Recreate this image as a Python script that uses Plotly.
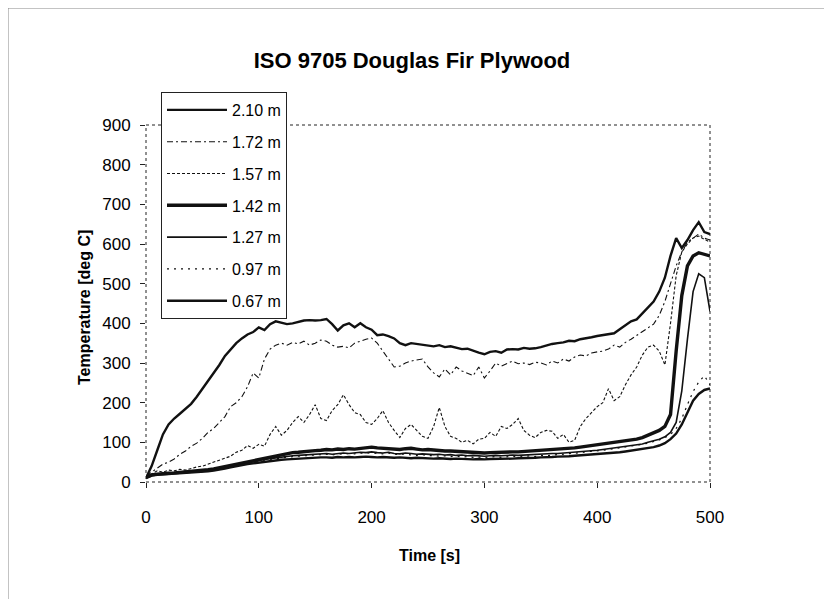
import plotly.graph_objects as go

time_s = [0, 5, 10, 15, 20, 25, 30, 35, 40, 45, 50, 55, 60, 65, 70, 75, 80, 85, 90, 95,
          100, 105, 110, 115, 120, 125, 130, 135, 140, 145, 150, 155, 160, 165, 170, 175, 180, 185, 190, 195,
          200, 205, 210, 215, 220, 225, 230, 235, 240, 245, 250, 255, 260, 265, 270, 275, 280, 285, 290, 295,
          300, 305, 310, 315, 320, 325, 330, 335, 340, 345, 350, 355, 360, 365, 370, 375, 380, 385, 390, 395,
          400, 405, 410, 415, 420, 425, 430, 435, 440, 445, 450, 455, 460, 465, 470, 475, 480, 485, 490, 495, 500]

t_210 = [10, 40, 80, 120, 145, 160, 172, 185, 197, 215, 235, 255, 272, 295, 318, 335, 350, 362, 372, 378,
         390, 383, 398, 405, 402, 398, 400, 404, 407, 408, 407, 408, 411, 398, 382, 395, 400, 390, 400, 390,
         384, 370, 372, 368, 362, 350, 345, 350, 348, 345, 343, 342, 345, 340, 342, 338, 335, 336, 330, 326,
         322, 328, 330, 326, 334, 335, 334, 338, 336, 337, 340, 345, 348, 350, 352, 356, 355, 360, 362, 365,
         368, 370, 372, 375, 385, 395, 405, 410, 425, 440, 455, 480, 515, 570, 615, 590, 610, 635, 655, 630, 625]

t_172 = [15, 25, 35, 45, 50, 58, 70, 78, 90, 98, 110, 125, 135, 150, 165, 190, 200, 215, 240, 275,
         262, 310, 335, 345, 350, 345, 352, 348, 355, 345, 350, 358, 355, 345, 340, 342, 338, 350, 355, 360,
         363, 350, 330, 310, 290, 292, 300, 305, 308, 310, 290, 275, 265, 285, 270, 290, 280, 275, 268, 290,
         262, 280, 300, 292, 298, 305, 298, 300, 296, 302, 300, 295, 305, 300, 310, 305, 315, 320, 318, 325,
         328, 330, 335, 345, 340, 352, 360, 370, 380, 390, 398, 420, 455, 500, 545, 580, 605, 615, 625, 615, 610]

t_157 = [12, 20, 28, 25, 30, 28, 32, 30, 34, 38, 40, 45, 50, 55, 60, 65, 75, 80, 92, 85,
         95, 90, 120, 140, 118, 130, 150, 165, 150, 170, 195, 160, 155, 180, 195, 220, 195, 175, 170, 150,
         145, 160, 180, 150, 130, 112, 135, 145, 130, 115, 110, 140, 188, 140, 115, 110, 100, 105, 96, 108,
         110, 125, 115, 140, 135, 145, 160, 130, 118, 112, 125, 130, 128, 110, 120, 100, 105, 140, 160, 175,
         190, 200, 235, 205, 215, 245, 270, 290, 320, 340, 345, 330, 295, 400, 520, 580, 600, 615, 620, 612, 605]

t_142 = [12, 18, 20, 22, 22, 23, 24, 25, 26, 27, 29, 31, 33, 36, 39, 42, 46, 49, 52, 55,
         58, 61, 64, 67, 70, 72, 74, 75, 77, 78, 79, 80, 82, 81, 83, 82, 84, 83, 85, 86,
         88, 86, 85, 84, 83, 82, 84, 85, 83, 81, 82, 80, 80, 78, 78, 77, 76, 76, 75, 74,
         73, 74, 75, 74, 75, 76, 76, 77, 78, 78, 79, 80, 80, 81, 83, 85, 86, 88, 90, 91,
         92, 95, 97, 98, 100, 103, 105, 108, 112, 118, 125, 130, 140, 170, 330, 470, 545, 570, 578, 575, 570]

t_127 = [12, 17, 19, 20, 21, 22, 23, 24, 25, 26, 28, 30, 32, 34, 37, 40, 43, 46, 49, 52,
         54, 57, 59, 61, 63, 65, 66, 67, 68, 69, 70, 71, 72, 70, 72, 73, 72, 74, 75, 74,
         76, 74, 73, 75, 72, 71, 73, 72, 70, 71, 70, 69, 70, 68, 69, 67, 68, 66, 67, 66,
         65, 66, 67, 66, 67, 68, 67, 68, 69, 70, 70, 71, 72, 72, 73, 74, 75, 76, 78, 79,
         80, 82, 84, 86, 88, 90, 92, 94, 96, 100, 104, 108, 114, 125, 150, 230, 360, 480, 525, 515, 430]

t_097 = [12, 18, 20, 22, 21, 23, 22, 24, 25, 27, 26, 29, 31, 33, 36, 39, 42, 45, 48, 50,
         53, 55, 57, 59, 61, 62, 64, 65, 66, 67, 68, 69, 70, 68, 71, 70, 72, 71, 73, 72,
         74, 72, 71, 73, 70, 69, 71, 68, 67, 69, 66, 67, 65, 66, 64, 65, 63, 64, 62, 63,
         62, 63, 64, 62, 64, 65, 63, 65, 66, 64, 67, 66, 68, 69, 70, 71, 73, 74, 76, 77,
         78, 80, 82, 84, 86, 88, 90, 92, 95, 98, 102, 106, 112, 120, 135, 160, 195, 228, 252, 268, 245]

t_067 = [10, 16, 18, 19, 20, 20, 21, 22, 23, 24, 25, 27, 29, 31, 34, 37, 40, 42, 45, 47,
         49, 51, 53, 55, 56, 57, 58, 59, 60, 60, 61, 62, 62, 61, 63, 62, 63, 62, 63, 64,
         63, 62, 63, 62, 61, 62, 61, 60, 61, 60, 60, 59, 60, 59, 58, 59, 58, 58, 57, 58,
         57, 58, 58, 59, 58, 59, 60, 60, 61, 61, 62, 62, 63, 64, 64, 65, 66, 67, 68, 69,
         70, 71, 72, 74, 75, 77, 79, 81, 83, 85, 88, 92, 98, 108, 122, 145, 175, 205, 222, 232, 236]

series_names = ["2.10 m", "1.72 m", "1.57 m", "1.42 m", "1.27 m", "0.97 m", "0.67 m"]
series_values = [t_210, t_172, t_157, t_142, t_127, t_097, t_067]
line_styles = [
    dict(width=2.4, dash="solid"),
    dict(width=1.1, dash="6px,3px,2px,3px"),
    dict(width=1.1, dash="3px,2px"),
    dict(width=3.4, dash="solid"),
    dict(width=1.6, dash="solid"),
    dict(width=1.2, dash="2px,5px"),
    dict(width=2.4, dash="solid"),
]

x_ticks = [0, 100, 200, 300, 400, 500]
y_ticks = [0, 100, 200, 300, 400, 500, 600, 700, 800, 900]

FONT = "Liberation Sans, Arial, sans-serif"
fig = go.Figure()
for i, (name, vals, st) in enumerate(zip(series_names, series_values, line_styles)):
    fig.add_trace(go.Scatter(
        x=time_s, y=vals, mode="lines", name=name, legendgroup=f"g{i}",
        line=dict(color="#111111", width=st["width"], dash=st["dash"]),
    ))

OFF = 8  # page body margin
W, H = 832, 599
# target page-pixel positions of the plot area
PL, PR, PT, PB = 146, 710, 125, 482
L = PL - OFF
T = PT - OFF
pw = PR - PL
ph = PB - PT
R = W - L - pw
B = H - T - ph

def px(xp):
    return (xp - PL) / pw

def py(yp):
    return (PB - yp) / ph

fig.update_layout(
    width=W, height=H,
    margin=dict(l=L, r=R, t=T, b=B),
    paper_bgcolor="white", plot_bgcolor="white",
    font=dict(family=FONT, color="black", size=16),
    title=dict(text="<b>ISO 9705 Douglas Fir Plywood</b>", x=(412 - OFF) / W, xref="container",
               xanchor="center", y=1 - (60 - OFF) / H, yref="container", yanchor="middle",
               font=dict(size=22, family=FONT, color="black")),
    showlegend=True,
    legend=dict(x=px(161), y=py(92), xanchor="left", yanchor="top",
                bgcolor="white", bordercolor="#222", borderwidth=1,
                font=dict(size=16, family=FONT), tracegroupgap=8,
                traceorder="grouped", itemwidth=60),
    xaxis=dict(range=[0, 500], tickvals=x_ticks, ticks="outside", ticklen=5,
               tickcolor="#222", showgrid=False, zeroline=False, showline=False,
               ticklabelstandoff=15, tickfont=dict(size=17)),
    yaxis=dict(range=[0, 900], tickvals=y_ticks, ticks="outside", ticklen=5,
               tickcolor="#222", showgrid=False, zeroline=False, showline=False,
               ticklabelstandoff=6, tickfont=dict(size=17)),
    annotations=[
        dict(text="<b>Time [s]</b>", x=px(429), y=py(555), xref="paper", yref="paper",
             showarrow=False, xanchor="center", yanchor="middle", font=dict(size=16)),
        dict(text="<b>Temperature [deg C]</b>", x=px(84), y=py(308), xref="paper", yref="paper",
             showarrow=False, xanchor="center", yanchor="middle", textangle=-90, font=dict(size=16)),
    ],
    shapes=[
        dict(type="rect", xref="paper", yref="paper", x0=0, y0=0, x1=1, y1=1,
             line=dict(color="#222", width=1, dash="dot"), layer="below"),
        dict(type="line", xref="paper", yref="paper", x0=px(OFF), x1=px(840), y0=py(OFF), y1=py(OFF),
             line=dict(color="#888", width=1)),
        dict(type="line", xref="paper", yref="paper", x0=px(OFF), x1=px(OFF), y0=py(OFF), y1=py(610),
             line=dict(color="#888", width=1)),
    ],
)

fig.write_html("out.html")
